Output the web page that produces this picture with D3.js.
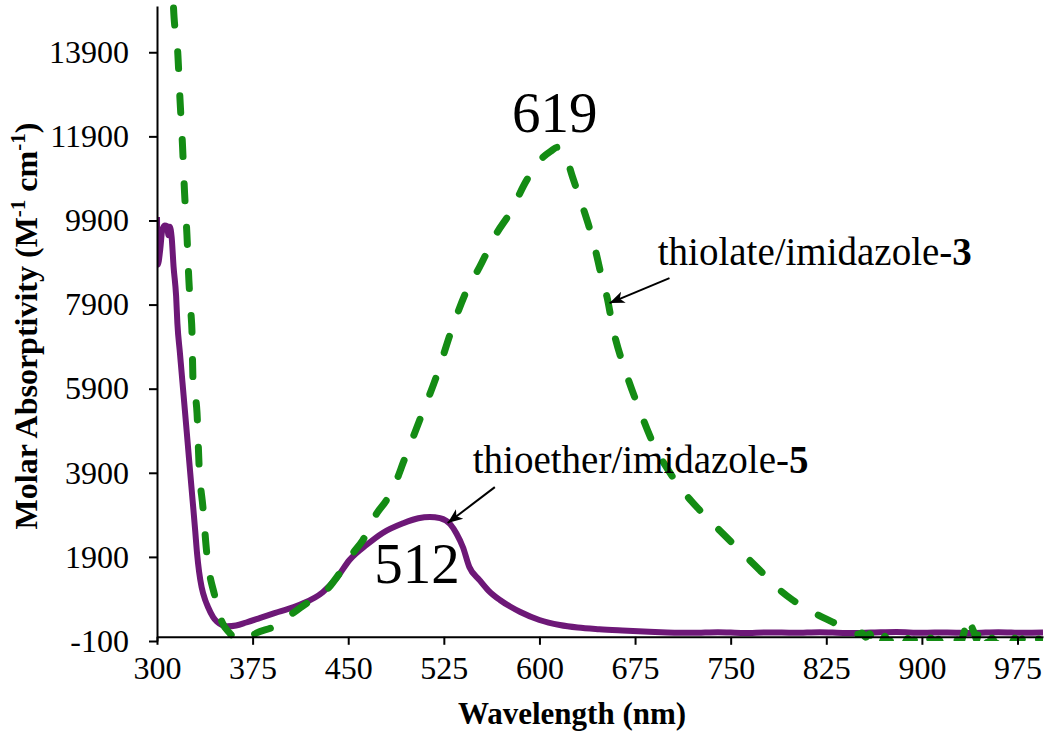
<!DOCTYPE html>
<html><head><meta charset="utf-8">
<script src="https://cdn.jsdelivr.net/npm/d3@7"></script>
<style>
html,body{margin:0;padding:0;background:#fff;}
svg{display:block;}
text{font-family:"Liberation Serif","Times New Roman",serif;}
</style></head>
<body>
<svg id="chart" width="1050" height="738"></svg>
<script>
// ---- data ----
const xTicks = [300,375,450,525,600,675,750,825,900,975];
const yTicks = [-100,1900,3900,5900,7900,9900,11900,13900];

const thioetherWl  = [300,300.6,302.5,304,306,308,309,310,311.5,313,315,316,318,320,322,324,326,328,330,331.4,333,335,338,340,344,347,351,355,362,370,381,395,412,430,441,451,465,477,493,505,514,522,530,535,540,545,553,560,569,577,585,600,616,630,647,665,686,700,720,740,760,780,800,820,840,860,880,900,920,940,960,980,995];
const thioetherAbs = [9980,8850,9200,9650,9780,9760,9550,9750,9500,8800,8100,7450,6745,6040,5340,4630,3920,3220,2510,1990,1550,1180,860,710,470,360,280,250,270,340,450,590,760,1060,1400,1825,2200,2470,2700,2820,2850,2820,2680,2450,2130,1660,1350,1100,875,720,590,400,280,220,180,150,120,105,95,110,90,105,95,110,90,100,115,95,105,90,110,95,100];

const thiolateWl  = [312.4,312.9,316.4,318,320,321.6,323.5,325,326.7,327.4,328.2,331.4,333,336,339,345.5,351,357,363.5,371,378,391,406.6,417.6,433,443.5,453.7,461.5,472.5,480,488,493,506,519.5,531,543,553,566.5,576.7,590,602.6,609,614,617,621,626,634,642,650,653,657.5,668,678.6,688,704.5,725.7,741,757,772.7,786,798.6,814,830,846,850,853,856,859,862,865,868,871,874,877,880,883,886,889,892,895,898,901,904,907,910,913,916,919,922,926,930,933,935,937,939,941,943,945,947,949,952,955,958,961,964,967,970,973,976,979,982,985,988,991,995];
const thiolateAbs = [16000,15000,13830,12800,11690,10570,9550,8480,7670,7290,6150,5320,4080,3090,2000,950,350,90,-80,-50,90,230,565,800,1110,1520,1990,2300,2940,3250,3730,4130,5150,6220,7290,8240,8790,9600,10070,10860,11400,11550,11640,11600,11400,10930,10220,9430,8410,8080,7360,6270,5390,4680,3800,3010,2540,2060,1590,1180,875,590,350,115,60,90,-10,70,-130,40,-160,10,-150,-20,-170,-30,-160,-40,-180,-50,-170,-40,-160,-30,-170,-60,-180,-50,-160,-40,-150,100,300,480,250,100,-60,220,240,-40,-160,-30,-170,-40,-160,-50,-170,-30,-160,-50,-170,-40,-160,-50,-150];

const peakLabels = [{t:"619", wl:612, v:12000},{t:"512", wl:504, v:1280}];
const callouts = [
  {label:["thiolate/imidazole-","3"], wl:692.8, v:8837, fromWl:702, fromV:8530, toWl:655, toV:7935},
  {label:["thioether/imidazole-","5"], wl:547.7, v:3893, fromWl:565, fromV:3560, toWl:528, toV:2705}
];

// ---- chart ----
const svg = d3.select("#chart");
const x = d3.scaleLinear().domain([300,995]).range([157,1043]);
const y = d3.scaleLinear().domain([-100,15000]).range([641,6]);

const defs = svg.append("defs");
defs.append("clipPath").attr("id","clip")
  .append("rect").attr("x",157).attr("y",0).attr("width",1043-157).attr("height",641);
defs.append("marker").attr("id","arr").attr("viewBox","-15 -7 17 14")
  .attr("refX",0).attr("refY",0).attr("markerWidth",17).attr("markerHeight",14)
  .attr("markerUnits","userSpaceOnUse").attr("orient","auto")
  .append("path").attr("d","M0,0 L-15,-6 L-11,0 L-15,6 Z").attr("fill","#000");

const line = d3.line().x(d=>x(d[0])).y(d=>y(d[1])).curve(d3.curveMonotoneX);

const g = svg.append("g").attr("clip-path","url(#clip)");
g.append("path").datum(thioetherWl.map((w,i)=>[w,thioetherAbs[i]]))
  .attr("d",line).attr("fill","none").attr("stroke","#6d1877")
  .attr("stroke-width",6).attr("stroke-linejoin","round");
g.append("path").datum(thiolateWl.map((w,i)=>[w,thiolateAbs[i]]))
  .attr("d",line).attr("fill","none").attr("stroke","#148c14")
  .attr("stroke-width",7).attr("stroke-dasharray","17 27")
  .attr("stroke-linecap","round").attr("stroke-linejoin","round");

// axes
const fmt = d => String(d);
const xAxis = svg.append("g").attr("transform",`translate(0,${y(0)})`)
  .call(d3.axisBottom(x).tickValues(xTicks).tickFormat(fmt).tickSize(8).tickSizeOuter(0).tickPadding(11));
const yAxis = svg.append("g").attr("transform",`translate(${x(300)},0)`)
  .call(d3.axisLeft(y).tickValues(yTicks).tickFormat(fmt).tickSize(8).tickSizeOuter(0).tickPadding(20));
[xAxis,yAxis].forEach(a=>{
  a.selectAll("path.domain").attr("stroke","#000").attr("stroke-width",2);
  a.selectAll(".tick line").attr("stroke","#000").attr("stroke-width",2);
  a.selectAll(".tick text").attr("font-size",32).attr("fill","#000")
   .attr("font-family","'Liberation Serif',serif");
});

// axis titles
svg.append("text").attr("x",572).attr("y",724).attr("text-anchor","middle")
  .attr("font-size",31).attr("font-weight","bold").text("Wavelength (nm)");
const yt = svg.append("text").attr("transform","translate(37,326) rotate(-90)")
  .attr("text-anchor","middle").attr("font-size",32).attr("font-weight","bold");
yt.append("tspan").text("Molar Absorptivity (M");
yt.append("tspan").attr("font-size",21).attr("dy",-12).text("-1");
yt.append("tspan").attr("dy",12).text(" cm");
yt.append("tspan").attr("font-size",21).attr("dy",-12).text("-1");
yt.append("tspan").attr("dy",12).text(")");

// peak labels
svg.selectAll("text.peak").data(peakLabels).enter().append("text")
  .attr("class","peak").attr("x",d=>x(d.wl)).attr("y",d=>y(d.v))
  .attr("text-anchor","middle").attr("font-size",57).text(d=>d.t);

// callouts
callouts.forEach(c=>{
  const t = svg.append("text").attr("x",x(c.wl)).attr("y",y(c.v)).attr("font-size",39);
  t.append("tspan").text(c.label[0]);
  t.append("tspan").attr("font-weight","bold").text(c.label[1]);
  svg.append("line").attr("x1",x(c.fromWl)).attr("y1",y(c.fromV))
    .attr("x2",x(c.toWl)).attr("y2",y(c.toV)).attr("stroke","#000").attr("stroke-width",2)
    .attr("marker-end","url(#arr)");
});
</script>
</body></html>
